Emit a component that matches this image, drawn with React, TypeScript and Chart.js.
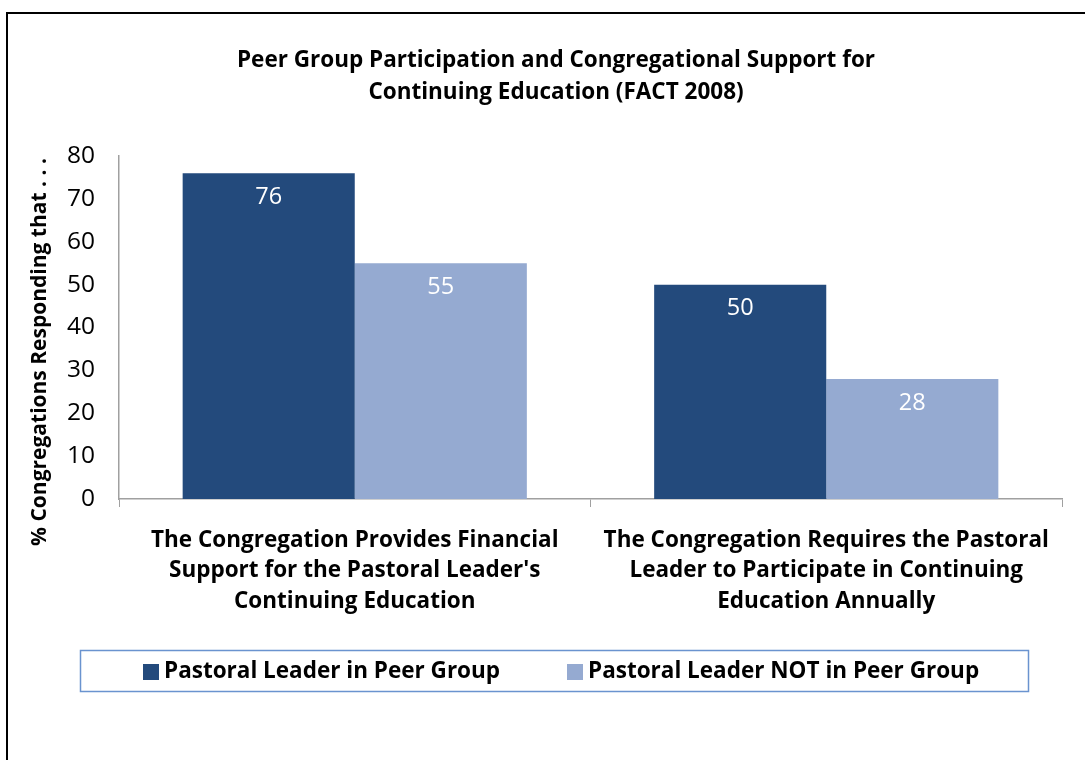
import React, { useEffect, useRef } from "react";
import { Chart, registerables } from "chart.js";

Chart.register(...registerables);

const titleLines = [
  "Peer Group Participation and Congregational Support for",
  "Continuing Education (FACT 2008)",
];
const yAxisTitle = "% Congregations Responding that . . .";
const categories = [
  ["The Congregation Provides Financial", "Support for the Pastoral Leader's", "Continuing Education"],
  ["The Congregation Requires the Pastoral", "Leader to Participate in Continuing", "Education Annually"],
];
const seriesNames = ["Pastoral Leader in Peer Group", "Pastoral Leader NOT in Peer Group"];
const inPeerGroup = [76, 50];
const notInPeerGroup = [55, 28];
const seriesColors = ["#234a7c", "#95aad1"];
const yTicks = { min: 0, max: 80, step: 10 };

const FONT = "'Open Sans', Lato, sans-serif";

const decorPlugin = {
  id: "decor",
  beforeDraw(chart: any) {
    const ctx = chart.ctx;
    ctx.save();
    ctx.fillStyle = "#ffffff";
    ctx.fillRect(0, 0, chart.width, chart.height);
    ctx.strokeStyle = "#000000";
    ctx.lineWidth = 2;
    ctx.strokeRect(7, 13, chart.width + 20, chart.height + 20);
    ctx.restore();
  },
  afterDraw(chart: any) {
    const ctx = chart.ctx;
    ctx.save();
    // title
    ctx.fillStyle = "#000000";
    ctx.font = `bold 22.5px ${FONT}`;
    ctx.textAlign = "center";
    ctx.textBaseline = "middle";
    titleLines.forEach((t, i) => ctx.fillText(t, 556, 61 + i * 32));
    // y-axis title
    ctx.save();
    ctx.translate(40, 352);
    ctx.rotate(-Math.PI / 2);
    ctx.font = `bold 21px ${FONT}`;
    ctx.fillText(yAxisTitle, 0, 0);
    ctx.restore();
    // data labels
    ctx.font = `23.5px ${FONT}`;
    ctx.fillStyle = "#ffffff";
    chart.data.datasets.forEach((ds: any, di: number) => {
      const meta = chart.getDatasetMeta(di);
      meta.data.forEach((bar: any, i: number) => {
        ctx.fillText(String(ds.data[i]), bar.x, bar.y + 24);
      });
    });
    // legend
    ctx.strokeStyle = "#6a93cf";
    ctx.lineWidth = 1.5;
    ctx.strokeRect(80.5, 650.5, 948, 41);
    ctx.font = `bold 22.5px ${FONT}`;
    ctx.textAlign = "left";
    const items = [
      { x: 143, name: seriesNames[0], color: seriesColors[0] },
      { x: 567, name: seriesNames[1], color: seriesColors[1] },
    ];
    items.forEach((it) => {
      ctx.fillStyle = it.color;
      ctx.fillRect(it.x, 664, 16, 16);
      ctx.fillStyle = "#000000";
      ctx.fillText(it.name, it.x + 21, 672);
    });
    ctx.restore();
  },
};

export default function App() {
  const ref = useRef<HTMLCanvasElement>(null);
  useEffect(() => {
    if (!ref.current) return;
    const chart = new Chart(ref.current, {
      type: "bar",
      data: {
        labels: categories,
        datasets: [
          { label: seriesNames[0], data: inPeerGroup, backgroundColor: seriesColors[0], categoryPercentage: 0.73, barPercentage: 1 },
          { label: seriesNames[1], data: notInPeerGroup, backgroundColor: seriesColors[1], categoryPercentage: 0.73, barPercentage: 1 },
        ],
      },
      options: {
        responsive: false,
        animation: false,
        layout: { padding: { top: 156, right: 23, left: 0, bottom: 0 } },
        plugins: { legend: { display: false }, title: { display: false }, tooltip: { enabled: false } },
        scales: {
          x: {
            afterFit: (s: any) => { s.height = 261; },
            grid: { display: true, drawOnChartArea: false, drawTicks: true, tickLength: 8, color: "#a0a0a0", offset: true },
            border: { display: true, color: "#a0a0a0", width: 1.5 },
            ticks: { color: "#000000", padding: 18, font: { family: FONT, size: 22.5, weight: "bold", lineHeight: 1.356 }, maxRotation: 0, autoSkip: false },
          },
          y: {
            min: yTicks.min,
            max: yTicks.max,
            afterFit: (s: any) => { s.width = 119; },
            grid: { display: false, drawTicks: false },
            border: { display: true, color: "#a0a0a0", width: 1.5 },
            ticks: { stepSize: yTicks.step, color: "#000000", padding: 24, font: { family: FONT, size: 24.5 } },
          },
        },
      },
      plugins: [decorPlugin],
    });
    return () => chart.destroy();
  }, []);
  return (
    <div style={{ position: "fixed", left: 0, top: 0, width: 1085, height: 760 }}>
      <canvas ref={ref} width={1085} height={760} style={{ display: "block" }} />
    </div>
  );
}
